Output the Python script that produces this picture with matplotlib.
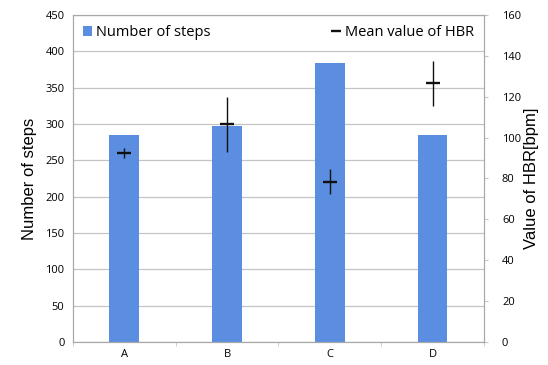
import matplotlib.pyplot as plt
import numpy as np

categories = ['A', 'B', 'C', 'D']
steps = [285, 297, 384, 285]
hbr_mean = [92.5, 106.5, 78.5, 126.5]
hbr_err = [2.5, 13.5, 6.0, 11.0]

bar_color = '#5b8ee0'
grid_color = '#c4c4c4'

fig = plt.figure(figsize=(5.48, 3.65), dpi=100)
ax = fig.add_axes([0.133, 0.063, 0.750, 0.896])
x = np.arange(len(categories))

ax.bar(x, steps, width=0.29, color=bar_color, zorder=2, label='Number of steps')
ax.set_ylim(0, 450)
ax.set_xlim(-0.5, len(categories) - 0.5)
ax.set_yticks(range(0, 451, 50))
ax.yaxis.grid(True, color=grid_color, linewidth=0.9, zorder=0)
ax.set_axisbelow(True)
ax.set_xticks(x)
ax.set_xticklabels(categories, fontsize=8, family='Open Sans')
ax.set_xticks(np.arange(-0.5, len(categories), 1), minor=True)
ax.tick_params(axis='x', which='major', length=0, pad=5)
ax.tick_params(axis='x', which='minor', length=3, color=grid_color)
ax.tick_params(axis='y', length=0, labelsize=8, pad=6)
for t in ax.get_yticklabels():
    t.set_family('Open Sans')
for s in ax.spines.values():
    s.set_color('#a8a8a8')
ax.set_ylabel('Number of steps', fontsize=12, family='Liberation Sans', labelpad=6)

ax2 = ax.twinx()
ax2.errorbar(x, hbr_mean, yerr=hbr_err, fmt='_', color='#111111', ecolor='#111111',
             elinewidth=1.0, markersize=10, markeredgewidth=1.7, capsize=0, zorder=3,
             label='Mean value of HBR')
ax2.set_ylim(0, 160)
ax2.set_yticks(range(0, 161, 20))
ax2.tick_params(axis='y', length=3, color=grid_color, labelsize=8, pad=10)
for t in ax2.get_yticklabels():
    t.set_family('Open Sans')
for s in ax2.spines.values():
    s.set_color('#a8a8a8')
ax2.set_ylabel('Value of HBR[bpm]', fontsize=12, family='Liberation Sans', labelpad=2)

leg1 = ax.legend(loc='upper left', frameon=False, prop={'family': 'Open Sans', 'size': 10.5},
                 handlelength=0.6, handleheight=0.6, handletextpad=0.3, borderaxespad=0.3)
h, l = ax2.get_legend_handles_labels()
ax2.legend([h[0].lines[0]], l, loc='upper right', frameon=False, prop={'family': 'Open Sans', 'size': 10.5},
           handlelength=0.6, handletextpad=0.3, borderaxespad=0.3, markerscale=0.7)

fig.savefig('out.png', dpi=100)
